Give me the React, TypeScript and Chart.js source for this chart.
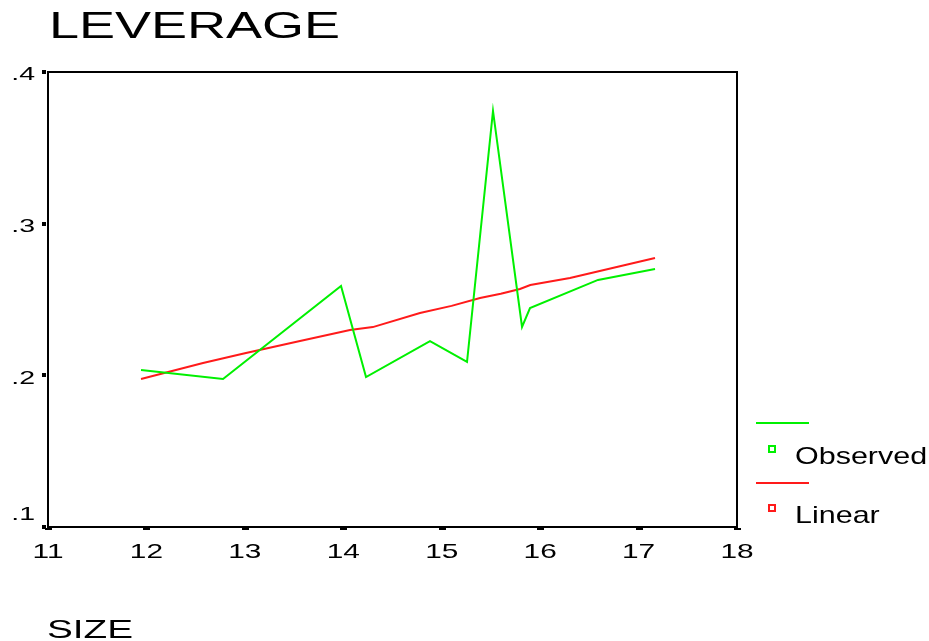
import React, { useEffect, useRef } from "react";
import { Chart, registerables } from "chart.js";

Chart.register(...registerables);

const titleText = "LEVERAGE";
const xAxisTitle = "SIZE";
const observedLabel = "Observed";
const linearLabel = "Linear";

const observedX = [11.945, 12.778, 13.977, 14.231, 14.881, 15.257, 15.521, 15.816, 15.897, 16.588, 17.167];
const observedY = [0.2035, 0.1976, 0.2589, 0.1989, 0.2226, 0.2088, 0.3743, 0.2319, 0.2444, 0.2629, 0.2701];

const linearX = [11.945, 12.575, 13.0, 13.56, 14.068, 14.3, 14.779, 15.1, 15.389, 15.6, 15.795, 15.9, 16.303, 16.8, 17.167];
const linearY = [0.1976, 0.2081, 0.2145, 0.2226, 0.2299, 0.2318, 0.2411, 0.2458, 0.251, 0.2538, 0.2569, 0.2595, 0.2642, 0.2718, 0.2774];

const xTickValues = [11, 12, 13, 14, 15, 16, 17, 18];
const xTickLabels = ["11", "12", "13", "14", "15", "16", "17", "18"];
const yTickValues = [0.1, 0.2, 0.3, 0.4];
const yTickLabels = [".1", ".2", ".3", ".4"];

const GREEN = "#00f000";
const RED = "#ff1a1a";
const FONT = "'Liberation Sans', Arial, sans-serif";

function stretchText(
  ctx: CanvasRenderingContext2D,
  text: string,
  x: number,
  y: number,
  size: number,
  sx: number,
  align: CanvasTextAlign,
  baseline: CanvasTextBaseline
) {
  ctx.save();
  ctx.font = `${size}px ${FONT}`;
  ctx.fillStyle = "#000";
  ctx.textAlign = align;
  ctx.textBaseline = baseline;
  ctx.translate(x, y);
  ctx.scale(sx, 1);
  ctx.fillText(text, 0, 0);
  ctx.restore();
}

const decorPlugin = {
  id: "decor",
  afterDatasetsDraw(chart: any) {
    const ctx: CanvasRenderingContext2D = chart.ctx;
    const { left, right, top, bottom } = chart.chartArea;
    const xs = chart.scales.x;
    const ys = chart.scales.y;

    // frame
    ctx.save();
    ctx.strokeStyle = "#000";
    ctx.lineWidth = 2;
    ctx.strokeRect(left, top, right - left, bottom - top);
    ctx.restore();

    // x ticks (dashes) and labels
    xTickValues.forEach((v, i) => {
      const px = xs.getPixelForValue(v);
      ctx.fillStyle = "#000";
      ctx.fillRect(Math.round(px) - 3, bottom + 1, 7, 2);
      stretchText(ctx, xTickLabels[i], px, 558, 21, 1.42, "center", "alphabetic");
    });

    // y ticks (dots) and labels
    yTickValues.forEach((v, i) => {
      const py = ys.getPixelForValue(v);
      ctx.fillStyle = "#000";
      ctx.fillRect(left - 6, Math.round(py) - 2, 4, 4);
      const off = i === 0 ? -12 : 3;
      stretchText(ctx, yTickLabels[i], 35, py + off, 19, 1.5, "right", "middle");
    });

    // title and axis title
    stretchText(ctx, titleText, 49, 38, 36, 1.5, "left", "alphabetic");
    stretchText(ctx, xAxisTitle, 47, 638, 25, 1.55, "left", "alphabetic");

    // legend
    const lx0 = 756;
    const lx1 = 809;
    ctx.save();
    ctx.lineWidth = 2;
    ctx.strokeStyle = GREEN;
    ctx.beginPath();
    ctx.moveTo(lx0, 423);
    ctx.lineTo(lx1, 423);
    ctx.stroke();
    ctx.strokeRect(769, 446, 6, 6);
    ctx.strokeStyle = RED;
    ctx.beginPath();
    ctx.moveTo(lx0, 483);
    ctx.lineTo(lx1, 483);
    ctx.stroke();
    ctx.strokeRect(769, 505, 6, 6);
    ctx.restore();
    stretchText(ctx, observedLabel, 795, 464, 24, 1.27, "left", "alphabetic");
    stretchText(ctx, linearLabel, 795, 523, 24, 1.27, "left", "alphabetic");
  },
};

export default function App() {
  const ref = useRef<HTMLCanvasElement | null>(null);

  useEffect(() => {
    if (!ref.current) return;
    const chart = new Chart(ref.current, {
      type: "scatter",
      data: {
        datasets: [
          {
            label: observedLabel,
            data: observedX.map((x, i) => ({ x, y: observedY[i] })),
            showLine: true,
            borderColor: GREEN,
            borderWidth: 2,
            pointRadius: 0,
            tension: 0,
          },
          {
            label: linearLabel,
            data: linearX.map((x, i) => ({ x, y: linearY[i] })),
            showLine: true,
            borderColor: RED,
            borderWidth: 2,
            pointRadius: 0,
            tension: 0,
          },
        ],
      },
      options: {
        responsive: false,
        animation: false,
        layout: { padding: { top: 72, right: 192, left: 0, bottom: 0 } },
        plugins: {
          legend: { display: false },
          title: { display: false },
          tooltip: { enabled: false },
        },
        scales: {
          x: {
            type: "linear",
            min: 11,
            max: 18,
            ticks: { display: false, stepSize: 1 },
            grid: { display: false },
            border: { display: false },
            afterFit: (s: any) => {
              s.height = 114;
            },
          },
          y: {
            type: "linear",
            min: 0.1,
            max: 0.4,
            ticks: { display: false, stepSize: 0.1 },
            grid: { display: false },
            border: { display: false },
            afterFit: (s: any) => {
              s.width = 48;
            },
          },
        },
      },
      plugins: [decorPlugin],
    });
    return () => chart.destroy();
  }, []);

  return (
    <div style={{ position: "absolute", left: 0, top: 0, width: 929, height: 641, background: "#fff" }}>
      <canvas ref={ref} width={929} height={641} />
    </div>
  );
}
